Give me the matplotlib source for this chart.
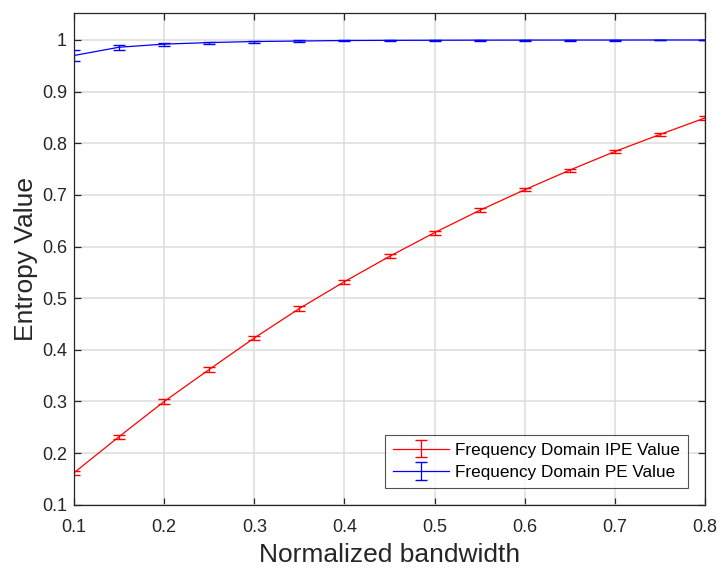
import matplotlib as mpl
mpl.use('Agg')
import matplotlib.pyplot as plt
import numpy as np

plt.rcParams['font.family'] = ['Liberation Sans', 'DejaVu Sans']

# data
bandwidth = [0.1, 0.15, 0.2, 0.25, 0.3, 0.35, 0.4, 0.45, 0.5, 0.55, 0.6, 0.65, 0.7, 0.75, 0.8]
ipe_mean = [0.162, 0.232, 0.300, 0.362, 0.423, 0.480, 0.532, 0.581, 0.627, 0.670, 0.710, 0.748, 0.784, 0.817, 0.849]
ipe_err = [0.004, 0.004, 0.004, 0.004, 0.004, 0.004, 0.004, 0.004, 0.004, 0.004, 0.003, 0.003, 0.003, 0.003, 0.003]
pe_mean = [0.970, 0.986, 0.992, 0.995, 0.997, 0.998, 0.999, 0.9993, 0.9995, 0.9997, 0.9998, 0.9999, 0.9999, 1.0, 1.0]
pe_err = [0.010, 0.005, 0.003, 0.002, 0.002, 0.0015, 0.001, 0.001, 0.001, 0.001, 0.001, 0.001, 0.001, 0.0005, 0.0005]

fig = plt.figure(figsize=(7.19, 5.71), dpi=100)
ax = fig.add_axes([0.103, 0.116, 0.8775, 0.861])

ax.errorbar(bandwidth, ipe_mean, yerr=ipe_err, color='#ff0000', lw=0.9,
            elinewidth=0.9, capsize=4, label='Frequency Domain IPE Value')
ax.errorbar(bandwidth, pe_mean, yerr=pe_err, color='#0000ff', lw=0.9,
            elinewidth=0.9, capsize=4, label='Frequency Domain PE Value')

ax.set_xlim(0.1, 0.8)
ax.set_ylim(0.1, 1.052)
ax.set_xticks(np.arange(0.1, 0.81, 0.1))
ax.set_yticks(np.arange(0.1, 1.01, 0.1))
ax.set_xticklabels(['0.1', '0.2', '0.3', '0.4', '0.5', '0.6', '0.7', '0.8'])
ax.set_yticklabels(['0.1', '0.2', '0.3', '0.4', '0.5', '0.6', '0.7', '0.8', '0.9', '1'])
ax.grid(True, color='#dcdcdc', lw=1.1)
ax.set_axisbelow(True)
ax.tick_params(direction='in', top=True, right=True, labelsize=13, length=5,
               width=0.9, colors='#262626', pad=5)
ax.tick_params(axis='x', pad=10)
for s in ax.spines.values():
    s.set_color('#262626')
    s.set_linewidth(0.9)

ax.set_xlabel('Normalized bandwidth', fontsize=19, color='#262626', labelpad=5)
ax.set_ylabel('Entropy Value', fontsize=19, color='#262626', labelpad=3)

leg = ax.legend(loc='lower right', fontsize=12.3, frameon=True, fancybox=False,
                edgecolor='#262626', borderaxespad=1.0, handlelength=3.3,
                handletextpad=0.35, borderpad=0.45, labelspacing=0.42)
leg.get_frame().set_linewidth(0.8)

fig.savefig('out.png')
